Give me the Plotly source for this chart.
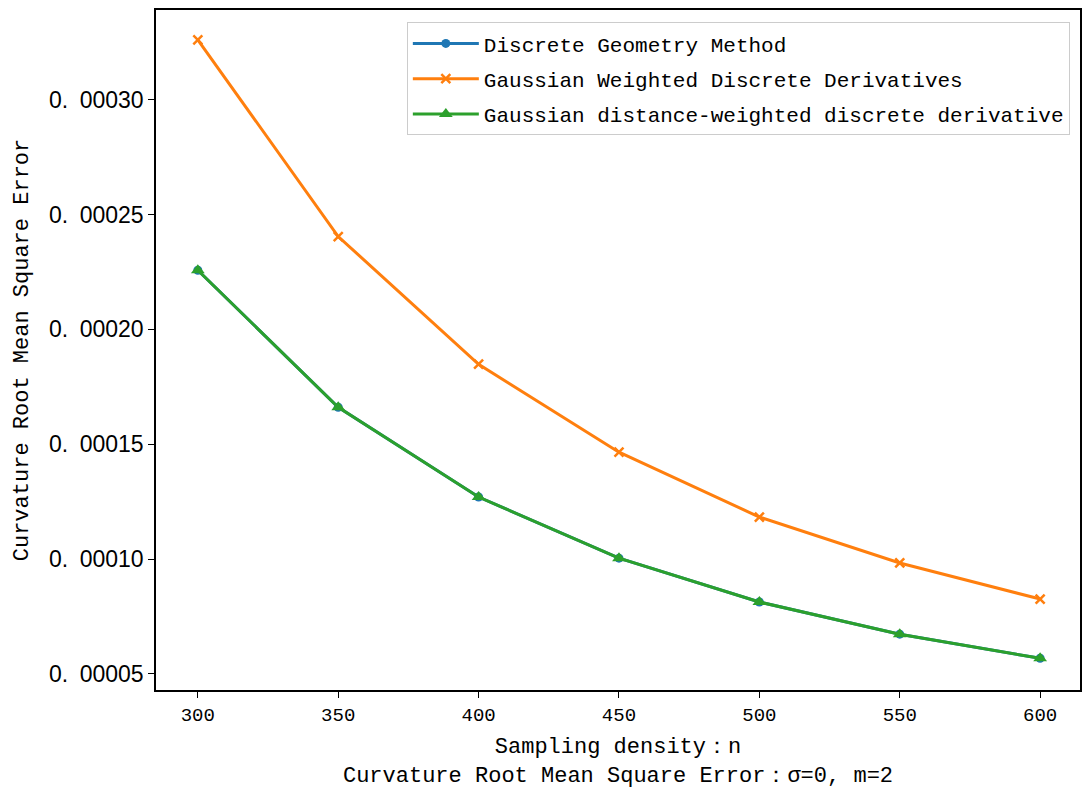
import plotly.graph_objects as go

n_values = [300, 350, 400, 450, 500, 550, 600]
discrete_geometry = [0.0002257, 0.0001661, 0.0001270, 0.0001004, 0.0000813, 0.0000673, 0.0000568]
gaussian_weighted = [0.0003260, 0.0002404, 0.0001848, 0.0001465, 0.0001183, 0.0000983, 0.0000826]
gaussian_distance = [0.0002257, 0.0001661, 0.0001270, 0.0001004, 0.0000813, 0.0000673, 0.0000568]

series_names = ["Discrete Geometry Method",
                "Gaussian Weighted Discrete Derivatives",
                "Gaussian distance-weighted discrete derivative"]

y_tick_vals = [0.00005, 0.00010, 0.00015, 0.00020, 0.00025, 0.00030]
y_tick_text = ["0.\u200200005", "0.\u200200010", "0.\u200200015",
               "0.\u200200020", "0.\u200200025", "0.\u200200030"]
x_tick_vals = [300, 350, 400, 450, 500, 550, 600]

mono = "Liberation Mono"

fig = go.Figure()
fig.add_trace(go.Scatter(x=n_values, y=discrete_geometry, name=series_names[0],
                         mode="lines+markers", legendgroup="a",
                         line=dict(color="#1f77b4", width=3),
                         marker=dict(symbol="circle", size=9, color="#1f77b4")))
fig.add_trace(go.Scatter(x=n_values, y=gaussian_weighted, name=series_names[1],
                         mode="lines+markers", legendgroup="b",
                         line=dict(color="#ff7f0e", width=3),
                         marker=dict(symbol="x-thin", size=9, color="#ff7f0e",
                                     line=dict(color="#ff7f0e", width=2.5))))
fig.add_trace(go.Scatter(x=n_values, y=gaussian_distance, name=series_names[2],
                         mode="lines+markers", legendgroup="c",
                         line=dict(color="#2ca02c", width=3),
                         marker=dict(symbol="triangle-up", size=12, color="#2ca02c")))

fig.update_layout(
    width=1083, height=790,
    margin=dict(l=156, r=1, t=10, b=100),
    plot_bgcolor="white", paper_bgcolor="white",
    font=dict(family=mono, size=22, color="black"),
    showlegend=True,
    legend=dict(x=0.989, y=0.982, xanchor="right", yanchor="top",
                bgcolor="rgba(255,255,255,0.8)", bordercolor="#cccccc", borderwidth=1,
                font=dict(family=mono, size=21), tracegroupgap=5, itemwidth=66),
    xaxis=dict(range=[285.1, 614.2], tickvals=x_tick_vals,
               showgrid=False, zeroline=False,
               showline=True, linecolor="black", linewidth=1.5, mirror=True,
               ticks="outside", ticklen=6, tickcolor="black",
               tickfont=dict(family=mono, size=19),
               title=dict(text="Sampling density：n<br>Curvature Root Mean Square Error：σ=0, m=2",
                          font=dict(family=mono, size=22), standoff=12)),
    yaxis=dict(range=[0.000043, 0.000339], tickvals=y_tick_vals, ticktext=y_tick_text,
               showgrid=False, zeroline=False,
               showline=True, linecolor="black", linewidth=1.5, mirror=True,
               ticks="outside", ticklen=6, tickcolor="black",
               tickfont=dict(family="Liberation Sans", size=23),
               title=dict(text="Curvature Root Mean Square Error",
                          font=dict(family=mono, size=22), standoff=14)),
)

fig.write_html("out.html")
